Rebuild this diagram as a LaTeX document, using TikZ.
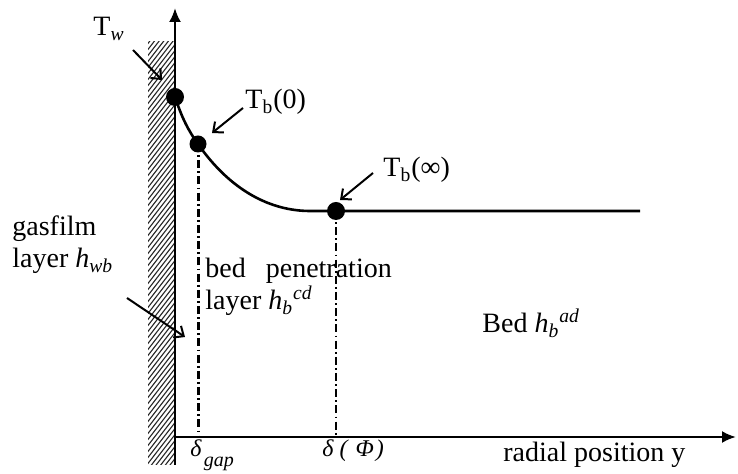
\documentclass[tikz,border=0pt]{standalone}
\usepackage{fontspec}
\setmainfont{Liberation Serif}
\usetikzlibrary{arrows.meta}
\begin{document}
\begin{tikzpicture}[x=0.5pt,y=-0.5pt,
  dot/.style={circle,fill=black,inner sep=0pt,minimum size=9pt},
  smalldot/.style={circle,fill=black,inner sep=0pt,minimum size=8.5pt},
  lbl/.style={inner sep=0pt,anchor=base west,font=\fontsize{14}{16}\selectfont},
  dl/.style={inner sep=0pt,anchor=base west,font=\fontsize{12}{13}\selectfont},
  axis/.style={line width=1.2pt,-{Latex[length=7pt,width=6pt]}},
  curve/.style={line width=1.3pt},
  drop/.style={line width=1.5pt,dash pattern=on 4pt off 1.6pt on 0.9pt off 1.6pt},
  dropthin/.style={line width=1pt,dash pattern=on 4pt off 1.6pt on 0.9pt off 1.6pt},
  lblarrow/.style={line width=1pt,-{Straight Barb[length=4pt,width=7pt]}},
  hatch/.style={line width=0.55pt,black!85}]
\useasboundingbox (0,0) rectangle (738,474);
% wall hatching
\begin{scope}
  \clip (148,42) rectangle (175,465);
  \foreach \y in {40,46,...,520} \draw[hatch] (146,\y) -- (177,{\y-40});
\end{scope}
% axes
\coordinate (origin) at (175,437);
\coordinate (vbot) at (175,465);
\coordinate (vtop) at (175,8);
\coordinate (hend) at (736,437);
\draw[axis] (vbot) -- (vtop);
\draw[axis] (origin) -- (hend);
% points
\node[dot] (tw) at (175,97) {};
\node[smalldot] (tb0) at (198,144) {};
\node[dot] (tbi) at (336,211) {};
\coordinate (flat) at (310,211);
\coordinate (lineend) at (640,211);
\draw[curve] (tw.center) .. controls (182,118) and (188,130) .. (tb0.center)
  .. controls (230,190) and (270,211) .. (flat) -- (tbi.center) -- (lineend);
% drops
\coordinate (x0) at (198,437);
\coordinate (xi) at (336,437);
\draw[drop] (tb0.center) -- (x0);
\draw[dropthin] (tbi.center) -- (xi);
% labels
\node[lbl] (twl) at (93,36) {T\textsubscript{\textit{w}}};
\node[lbl] (tb0l) at (245,109) {T\textsubscript{b}(0)};
\node[lbl] (tbil) at (383,177) {T\textsubscript{b}(∞)};
\node[lbl] (gasl) at (12,236) {gasfilm};
\node[lbl] (gasl2) at (12,268) {layer \textit{h}\textsubscript{\textit{wb}}};
\node[lbl] (bedl) at (205,278) {bed\hspace{10pt}penetration};
\node[lbl] (bedl2) at (205,310) {layer \textit{h}\textsubscript{\textit{b}}\textsuperscript{\textit{cd}}};
\node[lbl] (bedad) at (482,333) {Bed \textit{h}\textsubscript{\textit{b}}\textsuperscript{\textit{ad}}};
\node[dl] (dgap) at (190,457) {\textit{δ}\hspace{1pt}\raisebox{-5pt}{\fontsize{10}{10}\selectfont\textit{gap}}};
\node[dl] (dphi) at (322,457) {\textit{δ\hspace{3pt}(\hspace{4pt}Φ\hspace{1pt})}};
\node[lbl] (radl) at (503,462) {radial position y};
% label arrows
\coordinate (twa) at (133,50);
\coordinate (twb) at (162,80);
\coordinate (tb0a) at (243,108);
\coordinate (tb0b) at (212,133);
\coordinate (tbia) at (373,173);
\coordinate (tbib) at (340,200);
\coordinate (gasa) at (127,298);
\coordinate (gasb) at (185,337);
\draw[lblarrow] (twa) -- (twb);
\draw[lblarrow] (tb0a) -- (tb0b);
\draw[lblarrow] (tbia) -- (tbib);
\draw[lblarrow] (gasa) -- (gasb);
\end{tikzpicture}
\end{document}
